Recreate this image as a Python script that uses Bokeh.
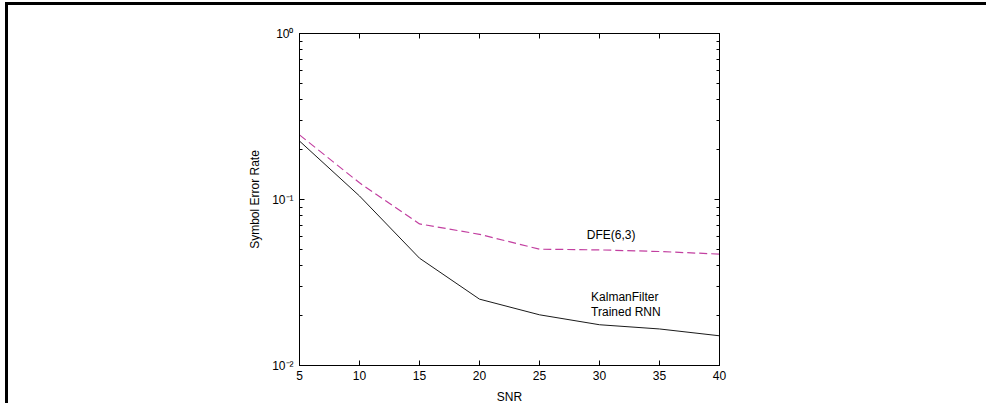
from bokeh.plotting import figure
from bokeh.models import LogAxis, LinearAxis, FixedTicker, CustomJSTickFormatter
from bokeh.core.properties import value
from bokeh.embed import file_html
from bokeh.resources import INLINE

# ---- data ----
snr = [5, 10, 15, 20, 25, 30, 35, 40]
kalman_rnn = [0.225, 0.105, 0.0443, 0.0251, 0.0202, 0.0176, 0.0166, 0.0151]
dfe = [0.245, 0.126, 0.0713, 0.0617, 0.0502, 0.0497, 0.0486, 0.0469]

x_ticks = [5, 10, 15, 20, 25, 30, 35, 40]
y_ticks = [0.01, 0.1, 1.0]
y_tick_labels = ["10\u207b\u00b2", "10\u207b\u00b9", "10\u2070"]
y_minor = [m * d for d in (0.01, 0.1) for m in range(2, 10)]

label_dfe = ("DFE(6,3)", 30.97, 0.0608)
label_rnn_x = 29.3
label_rnn = [("KalmanFilter", 0.0257), ("Trained RNN", 0.0209)]

FONT = "Liberation Sans"

p = figure(width=978, height=398, y_axis_type="log",
           x_range=(5, 40), y_range=(0.01, 1),
           output_backend="svg", toolbar_location=None,
           min_border_left=291, min_border_right=270,
           min_border_top=28, min_border_bottom=41)
p.margin = (2, 0, 0, 5)
p.styles = {"border-style": "solid none none solid",
            "border-width": "3px 0px 0px 3px",
            "border-color": "black",
            "box-sizing": "content-box"}

p.background_fill_color = "white"
p.border_fill_color = "white"
p.outline_line_color = "black"
p.outline_line_width = 1
p.xgrid.grid_line_color = None
p.ygrid.grid_line_color = None

# bottom axis
xa = p.xaxis[0]
xa.ticker = FixedTicker(ticks=x_ticks)
xa.axis_label = "SNR"
# left axis
ya = p.yaxis[0]
ya.ticker = FixedTicker(ticks=y_ticks, minor_ticks=y_minor)
ya.major_label_overrides = {t: l for t, l in zip(y_ticks, y_tick_labels)}
ya.axis_label = "Symbol Error Rate"

blank = CustomJSTickFormatter(code="return ''")
ra = LogAxis(ticker=FixedTicker(ticks=y_ticks, minor_ticks=y_minor), formatter=blank)
ta = LinearAxis(ticker=FixedTicker(ticks=x_ticks), formatter=blank)
p.add_layout(ra, "right")
p.add_layout(ta, "above")

for ax in (xa, ya, ra, ta):
    ax.axis_line_color = "black"
    ax.axis_line_width = 1
    ax.major_tick_line_color = "black"
    ax.major_tick_in = 5
    ax.major_tick_out = 0
    ax.minor_tick_line_color = "black"
    ax.minor_tick_in = 3
    ax.minor_tick_out = 0
    ax.major_label_text_font = FONT
    ax.major_label_text_font_size = "12px"
    ax.major_label_text_color = "black"
    ax.axis_label_text_font = FONT
    ax.axis_label_text_font_size = "12px"
    ax.axis_label_text_font_style = "normal"
    ax.axis_label_text_color = "black"
for ax in (xa, ta):
    ax.minor_tick_line_color = None
xa.major_label_standoff = 5
xa.axis_label_standoff = 7
ya.major_label_standoff = 6
ya.axis_label_standoff = 7

p.line(snr, kalman_rnn, line_color="#1a1a1a", line_width=1)
p.line(snr, dfe, line_color="#c23fa0", line_width=1.2, line_dash="8 4")

p.text(x=[label_dfe[1]], y=[label_dfe[2]], text=[label_dfe[0]],
       text_font=value(FONT), text_font_size="12px", text_color="black",
       text_align="center", text_baseline="middle")
p.text(x=[label_rnn_x] * len(label_rnn), y=[v for _, v in label_rnn],
       text=[t for t, _ in label_rnn],
       text_font=value(FONT), text_font_size="12px", text_color="black",
       text_align="left", text_baseline="middle")

open("out.html", "w").write(file_html(p, INLINE))
